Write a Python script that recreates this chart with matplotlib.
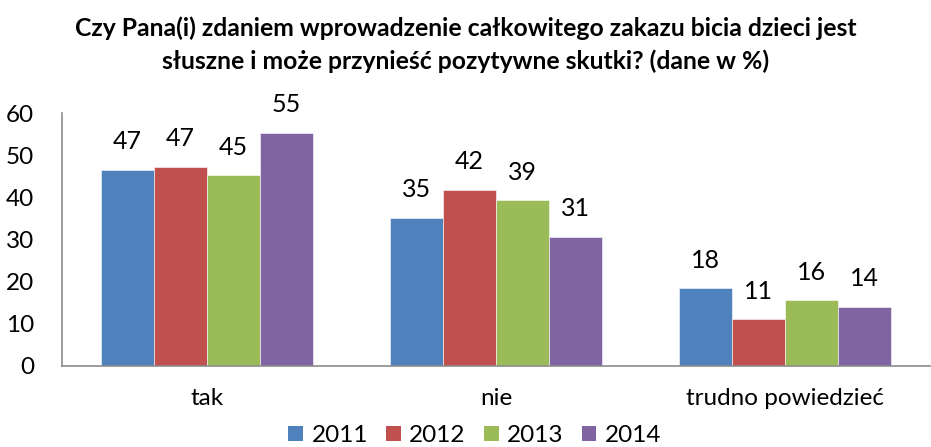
import matplotlib
matplotlib.use("Agg")
import matplotlib.pyplot as plt
import numpy as np
from matplotlib.patches import Patch

categories = ["tak", "nie", "trudno powiedzieć"]
years = ["2011", "2012", "2013", "2014"]
values = {
    "2011": [46.6, 35.1, 18.4],
    "2012": [47.2, 41.7, 11.1],
    "2013": [45.2, 39.3, 15.6],
    "2014": [55.3, 30.6, 14.0],
}
labels = {
    "2011": ["47", "35", "18"],
    "2012": ["47", "42", "11"],
    "2013": ["45", "39", "16"],
    "2014": ["55", "31", "14"],
}
colors = ["#4F81BD", "#C0504D", "#9BBB59", "#8064A2"]
title = "Czy Pana(i) zdaniem wprowadzenie całkowitego zakazu bicia dzieci jest\nsłuszne i może przynieść pozytywne skutki? (dane w %)"

plt.rcParams['font.family'] = ['Lato', 'DejaVu Sans']

fig = plt.figure(figsize=(9.31, 4.47), dpi=100)
ax = fig.add_axes([62/931, 1-366/447, 868/931, (366-113)/447])

x = np.arange(len(categories))
w = 0.183
for i, (yr, c) in enumerate(zip(years, colors)):
    pos = x + (i - 1.5) * w
    bars = ax.bar(pos, values[yr], width=w, color=c, edgecolor="white", linewidth=0.4)
    for b, lab in zip(bars, labels[yr]):
        ax.annotate(lab, (b.get_x() + b.get_width()/2, b.get_height()),
                    xytext=(0, 12), textcoords="offset points",
                    ha="center", va="bottom", fontsize=18, color="black")

ax.set_xlim(-0.5, 2.5)
ax.set_ylim(0, 60)
ax.set_yticks([0, 10, 20, 30, 40, 50, 60])
ax.set_xticks(x)
ax.set_xticklabels(categories)
ax.tick_params(axis="both", length=0, labelsize=17.5)
ax.tick_params(axis="x", pad=16)
ax.tick_params(axis="y", pad=20)
for lbl in ax.get_yticklabels():
    lbl.set_horizontalalignment("right")
for s in ["top", "right"]:
    ax.spines[s].set_visible(False)
for s in ["left", "bottom"]:
    ax.spines[s].set_color("#8C8C8C")
    ax.spines[s].set_linewidth(1.2)

fig.text(0.5, 0.90, title, ha="center", va="center", fontsize=17.8,
         fontweight="bold", linespacing=1.45)

handles = [Patch(facecolor=c, label=y) for y, c in zip(years, colors)]
fig.legend(handles=handles, loc="center", bbox_to_anchor=(0.51, 0.025), ncol=4,
           frameon=False, fontsize=17.5, handlelength=0.6, handleheight=0.6,
           handletextpad=0.35, columnspacing=0.75, borderaxespad=0)

fig.savefig("out.png", dpi=100)
